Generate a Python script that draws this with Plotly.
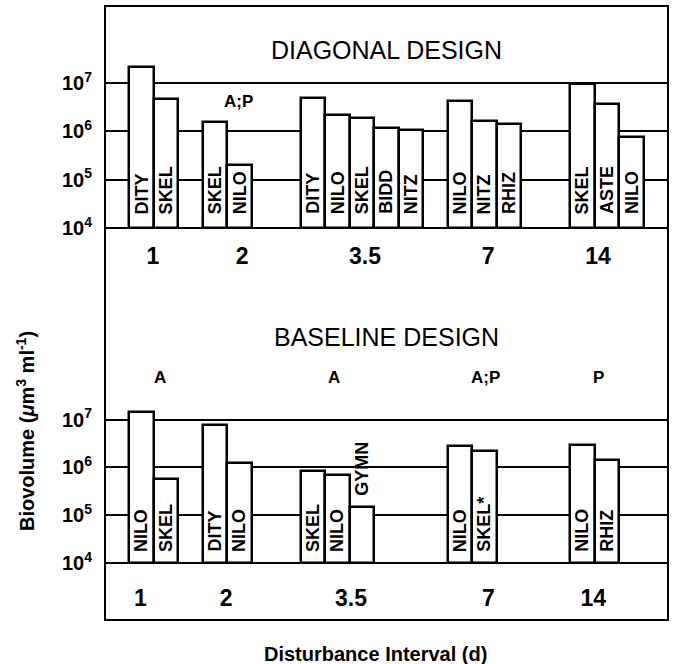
import math
import plotly.graph_objects as go

# ---------------- data ----------------
categories = ["1", "2", "3.5", "7", "14"]

diag_taxa = [["DITY", "SKEL"], ["SKEL", "NILO"],
             ["DITY", "NILO", "SKEL", "BIDD", "NITZ"],
             ["NILO", "NITZ", "RHIZ"], ["SKEL", "ASTE", "NILO"]]
diag_values = [[2.15e7, 4.6e6], [1.55e6, 1.87e5],
               [4.8e6, 2.2e6, 1.85e6, 1.18e6, 1.06e6],
               [4.3e6, 1.65e6, 1.38e6], [9.4e6, 3.7e6, 7.7e5]]
diag_sig = ["", "A;P", "", "", ""]

base_taxa = [["NILO", "SKEL"], ["DITY", "NILO"], ["SKEL", "NILO", "GYMN"],
             ["NILO", "SKEL*"], ["NILO", "RHIZ"]]
base_values = [[1.47e7, 5.6e5], [7.7e6, 1.24e6], [8.5e5, 6.8e5, 1.36e5],
               [2.8e6, 2.15e6], [3.0e6, 1.45e6]]
base_sig = ["A", "", "A", "A;P", "P"]

ytick_vals = [1e4, 1e5, 1e6, 1e7]
ytick_text = ["10<sup>4</sup>", "10<sup>5</sup>", "10<sup>6</sup>", "10<sup>7</sup>"]

# ---------------- layout constants ----------------
FONT = "Liberation Sans, Arial, Helvetica, sans-serif"
GROUP_START = [1, 4, 8, 14, 19]          # bar-slot where each group starts
X_RANGE = [0, 23]
BAR_BASE = 1e4
INSIDE_MIN_DECADES = 1.2                  # label goes inside the bar if tall enough

panels = [
    dict(taxa=diag_taxa, values=diag_values, sig=diag_sig,
         xa="x", ya="y", cat_x=[1.96, 5.6, 10.62, 15.65, 20.14],
         sig_x=[2.0, 5.47, 10.5, 15.5, 20.5], sig_y=0.8441,
         label_shift=13, mask_lo=8, mask_hi=61,
         title="DIAGONAL DESIGN", title_y=0.9283),
    dict(taxa=base_taxa, values=base_values, sig=base_sig,
         xa="x2", ya="y2", cat_x=[1.45, 4.95, 10.05, 15.66, 19.95],
         sig_x=[2.23, 5.0, 9.35, 15.56, 20.18], sig_y=0.3949,
         label_shift=10, mask_lo=6, mask_hi=62,
         title="BASELINE DESIGN", title_y=0.4609),
]

fig = go.Figure()
annotations = []
shapes = []

for p in panels:
    xs, ys = [], []
    masks, labels = [], []
    for g, (taxa, vals) in enumerate(zip(p["taxa"], p["values"])):
        inside = [math.log10(v) - math.log10(BAR_BASE) >= INSIDE_MIN_DECADES for v in vals]
        for k, (t, v) in enumerate(zip(taxa, vals)):
            xc = GROUP_START[g] + k + 0.5
            xs.append(xc)
            ys.append(v)
            if inside[k]:
                labels.append(dict(x=xc, y=math.log10(BAR_BASE), yshift=p["label_shift"], text=t))
            else:
                labels.append(dict(x=xc, y=math.log10(v), yshift=12, text=t))
            if k > 0 and inside[k] and inside[k - 1]:
                masks.append(GROUP_START[g] + k)
    fig.add_trace(go.Bar(
        x=xs, y=ys, base=[BAR_BASE] * len(xs), width=1,
        xaxis=p["xa"], yaxis=p["ya"], showlegend=False, hoverinfo="skip",
        marker=dict(color="white", line=dict(color="black", width=2.5)),
    ))
    # white gaps in the divider lines behind the rotated labels
    for mx in masks:
        shapes.append(dict(
            type="rect", xref=p["xa"], yref=p["ya"],
            xsizemode="pixel", xanchor=mx, x0=-3, x1=3,
            ysizemode="pixel", yanchor=math.log10(BAR_BASE),
            y0=p["mask_lo"], y1=p["mask_hi"],
            fillcolor="white", line=dict(width=0), layer="above"))
    for lb in labels:
        annotations.append(dict(
            x=lb["x"], y=lb["y"], xref=p["xa"], yref=p["ya"], text=lb["text"],
            showarrow=False, textangle=-90, xanchor="center", yanchor="bottom",
            yshift=lb["yshift"], borderpad=0,
            font=dict(family=FONT, size=18, color="black", weight="bold")))
    for sx, s in zip(p["sig_x"], p["sig"]):
        if s:
            annotations.append(dict(
                x=sx, y=p["sig_y"], xref=p["xa"], yref="paper", text=s,
                showarrow=False, xanchor="center", yanchor="middle",
                font=dict(family=FONT, size=17, color="black", weight="bold")))
    annotations.append(dict(
        x=0.5, y=p["title_y"], xref="paper", yref="paper", text=p["title"],
        showarrow=False, xanchor="center", yanchor="middle",
        font=dict(family=FONT, size=25, color="black")))

annotations.append(dict(
    x=0.481, y=-0.0554, xref="paper", yref="paper",
    text="Disturbance Interval (d)", showarrow=False,
    xanchor="center", yanchor="middle",
    font=dict(family=FONT, size=20, color="black", weight="bold")))
annotations.append(dict(
    x=-0.142, y=0.3078, xref="paper", yref="paper",
    text="Biovolume (<i>μ</i>m<sup>3</sup> ml<sup>-1</sup>)", showarrow=False,
    textangle=-90, xanchor="center", yanchor="middle",
    font=dict(family=FONT, size=20, color="black", weight="bold")))

xaxis_common = dict(range=X_RANGE, showgrid=False, zeroline=False, showline=False,
                    ticks="", tickfont=dict(family=FONT, size=23, color="black", weight="bold"))
yaxis_common = dict(type="log", tickvals=ytick_vals, ticktext=ytick_text,
                    showgrid=True, gridcolor="black", gridwidth=2,
                    zeroline=False, showline=False, ticks="", ticklabelstandoff=12,
                    tickfont=dict(family=FONT, size=20, color="black", weight="bold"))

shapes.append(dict(type="rect", xref="paper", yref="paper", x0=0, x1=1, y0=0, y1=1,
                   line=dict(color="black", width=2), layer="above"))

fig.update_layout(
    width=674, height=664,
    margin=dict(l=105, r=6, t=6, b=44),
    paper_bgcolor="white", plot_bgcolor="white",
    bargap=0, barmode="overlay",
    xaxis=dict(domain=[0, 1], anchor="y", tickvals=panels[0]["cat_x"], ticktext=categories, **xaxis_common),
    yaxis=dict(domain=[0.6189, 1], anchor="x", range=[3.756, 8.588], **yaxis_common),
    xaxis2=dict(domain=[0, 1], anchor="y2", tickvals=panels[1]["cat_x"], ticktext=categories, **xaxis_common),
    yaxis2=dict(domain=[0.0619, 0.5212], anchor="x2", range=[3.600, 9.508], **yaxis_common),
    annotations=annotations,
    shapes=shapes,
    hovermode=False,
)

fig.write_html("out.html")
